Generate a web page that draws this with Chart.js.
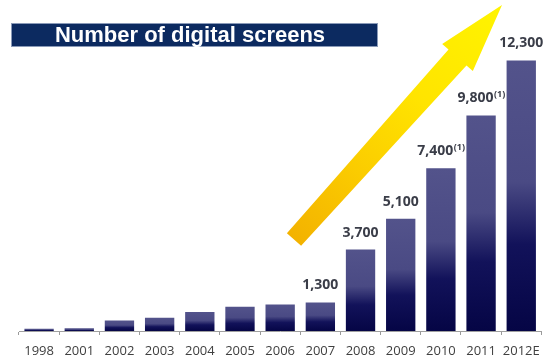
<!DOCTYPE html>
<html>
<head>
<meta charset="utf-8">
<script src="https://cdn.jsdelivr.net/npm/chart.js@4.4.1/dist/chart.umd.min.js"></script>
<style>
    body { margin: 0; background: #fff; }
    #wrap { width: 550px; height: 364px; position: relative; }
</style>
</head>
<body>
<div id="wrap"><canvas id="myChart"></canvas></div>
<script>
const years = ['1998', '2001', '2002', '2003', '2004', '2005', '2006', '2007', '2008', '2009', '2010', '2011', '2012E'];
const screens = [100, 130, 480, 600, 860, 1100, 1200, 1300, 3700, 5100, 7400, 9800, 12300];
const valueLabels = ['', '', '', '', '', '', '', '1,300', '3,700', '5,100', '7,400', '9,800', '12,300'];
const footnotes = ['', '', '', '', '', '', '', '', '', '', '(1)', '(1)', ''];
const titleText = 'Number of digital screens';

function barFill(context) {
    const chart = context.chart;
    if (!chart.chartArea) return '#3c3c7a';
    const y = chart.scales.y;
    const top = y.getPixelForValue(context.raw);
    const base = y.getPixelForValue(0);
    if (!(base > top)) return '#3c3c7a';
    const g = chart.ctx.createLinearGradient(0, top, 0, base);
    g.addColorStop(0, '#53538b');
    g.addColorStop(0.45, '#4a4a84');
    g.addColorStop(0.68, '#12125a');
    g.addColorStop(1, '#050545');
    return g;
}

// yellow growth arrow behind the bars
const arrowPlugin = {
    id: 'arrow',
    beforeDatasetsDraw(chart) {
        const c = chart.ctx;
        const tail = { x: 294, y: 239.5 };
        const neck = { x: 457.5, y: 57.5 };
        const tip = { x: 502, y: 5 };
        const len = Math.hypot(tip.x - tail.x, tip.y - tail.y);
        const dx = (tip.x - tail.x) / len, dy = (tip.y - tail.y) / len;
        const nx = -dy, ny = dx;
        const tailW = 9.5, neckW = 12, headW = 20.5;
        c.save();
        const g = c.createLinearGradient(tail.x, tail.y, tip.x, tip.y);
        g.addColorStop(0, '#f3b200');
        g.addColorStop(0.3, '#fbcc00');
        g.addColorStop(0.6, '#ffe400');
        g.addColorStop(1, '#fff400');
        c.fillStyle = g;
        c.beginPath();
        c.moveTo(tail.x - nx * tailW, tail.y - ny * tailW);
        c.lineTo(neck.x - nx * neckW, neck.y - ny * neckW);
        c.lineTo(neck.x - nx * headW, neck.y - ny * headW);
        c.lineTo(tip.x, tip.y);
        c.lineTo(neck.x + nx * headW, neck.y + ny * headW);
        c.lineTo(neck.x + nx * neckW, neck.y + ny * neckW);
        c.lineTo(tail.x + nx * tailW, tail.y + ny * tailW);
        c.closePath();
        c.fill();
        c.restore();
    }
};

// title box and value labels
const labelPlugin = {
    id: 'labels',
    afterDatasetsDraw(chart) {
        const c = chart.ctx;
        c.save();
        c.fillStyle = '#0c2a60';
        c.fillRect(11, 23, 367, 24);
        c.strokeStyle = '#8a9ab8';
        c.lineWidth = 1;
        c.strokeRect(11.5, 23.5, 366, 23);
        c.fillStyle = '#ffffff';
        c.font = 'bold 22px "Liberation Sans", Arial, sans-serif';
        c.textAlign = 'center';
        c.textBaseline = 'middle';
        c.fillText(titleText, 190, 36);

        const meta = chart.getDatasetMeta(0);
        meta.data.forEach(function (bar, i) {
            if (!valueLabels[i]) return;
            const main = valueLabels[i];
            const note = footnotes[i];
            c.font = 'bold 14px "Open Sans", sans-serif';
            const w1 = c.measureText(main).width;
            c.font = 'bold 9px "Open Sans", sans-serif';
            const w2 = note ? c.measureText(note).width : 0;
            const x0 = bar.x - (w1 + w2) / 2;
            const yb = bar.y - 13;
            c.textAlign = 'left';
            c.textBaseline = 'alphabetic';
            c.fillStyle = '#3a3d48';
            c.font = 'bold 14px "Open Sans", sans-serif';
            c.fillText(main, x0, yb);
            if (note) {
                c.font = 'bold 9px "Open Sans", sans-serif';
                c.fillText(note, x0 + w1 + 0.5, yb - 5);
            }
        });
        c.restore();
    }
};

const ctx = document.getElementById('myChart').getContext('2d');
new Chart(ctx, {
    type: 'bar',
    data: {
        labels: years,
        datasets: [{
            label: 'Number of digital screens',
            data: screens,
            backgroundColor: barFill,
            borderWidth: 0,
            barPercentage: 0.73,
            categoryPercentage: 1
        }]
    },
    options: {
        responsive: true,
        maintainAspectRatio: false,
        animation: false,
        layout: { padding: { left: 19, right: 7, top: 23, bottom: -4 } },
        plugins: {
            legend: { display: false },
            tooltip: { enabled: false }
        },
        scales: {
            x: {
                grid: {
                    display: true,
                    drawOnChartArea: false,
                    tickLength: 4,
                    color: '#9a9a9a'
                },
                border: { color: '#a0a0a0' },
                ticks: {
                    color: '#404040',
                    padding: 10,
                    autoSkip: false,
                    minRotation: 0,
                    maxRotation: 0,
                    font: { family: '"Open Sans", sans-serif', size: 13, lineHeight: 1.0 }
                }
            },
            y: {
                display: false,
                min: 0,
                max: 14000
            }
        }
    },
    plugins: [arrowPlugin, labelPlugin]
});
</script>
</body>
</html>
